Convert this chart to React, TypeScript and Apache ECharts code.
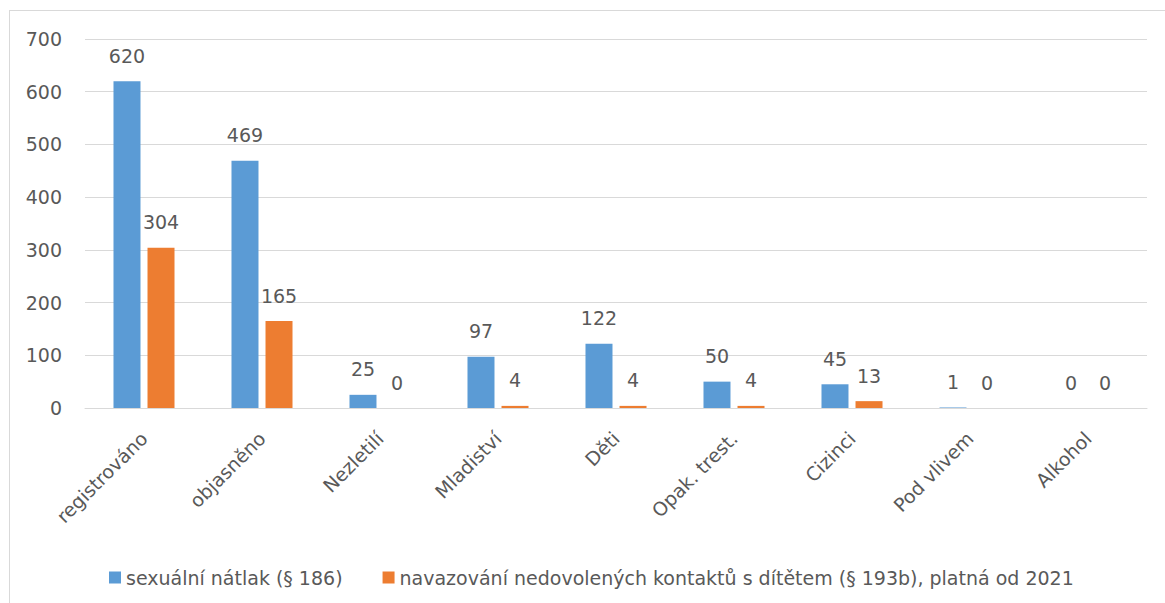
import React, { useEffect, useRef } from "react";
import * as echarts from "echarts";

const categories = ["registrováno", "objasněno", "Nezletilí", "Mladiství", "Děti", "Opak. trest.", "Cizinci", "Pod vlivem", "Alkohol"];
const series1Name = "sexuální nátlak (§ 186)";
const series2Name = "navazování nedovolených kontaktů s dítětem (§ 193b), platná od 2021";
const series1 = [620, 469, 25, 97, 122, 50, 45, 1, 0];
const series2 = [304, 165, 0, 4, 4, 4, 13, 0, 0];
const yTicks = { min: 0, max: 700, interval: 100 };

const FONT = "'DejaVu Sans', sans-serif";
const TXT = "#595959";
const FS = 19;

export default function App() {
  const ref = useRef<HTMLDivElement>(null);
  useEffect(() => {
    document.body.style.margin = "0";
    const chart = echarts.init(ref.current!, undefined, { renderer: "svg" });
    const label = {
      show: true,
      position: "top" as const,
      distance: 16,
      fontSize: FS,
      color: TXT,
      fontFamily: FONT,
    };
    chart.setOption({
      animation: false,
      textStyle: { fontFamily: FONT },
      grid: { left: 85, right: 18, top: 39, bottom: 195, containLabel: false },
      legend: {
        left: 104,
        top: 563,
        itemWidth: 12,
        itemHeight: 12,
        itemGap: 40,
        icon: "rect",
        textStyle: { fontSize: FS, color: TXT, fontFamily: FONT },
        data: [series1Name, series2Name],
      },
      graphic: [
        { type: "line", shape: { x1: 9.5, y1: 10, x2: 9.5, y2: 603 }, style: { stroke: "#d9d9d9", lineWidth: 1 } },
        { type: "line", shape: { x1: 9, y1: 10.5, x2: 1165, y2: 10.5 }, style: { stroke: "#d9d9d9", lineWidth: 1 } },
      ],
      xAxis: {
        type: "category",
        data: categories,
        axisLine: { lineStyle: { color: "#d9d9d9", width: 1 } },
        axisTick: { show: false },
        axisLabel: { rotate: 45, fontSize: FS, color: TXT, fontFamily: FONT, margin: 27, interval: 0 },
      },
      yAxis: {
        type: "value",
        min: yTicks.min,
        max: yTicks.max,
        interval: yTicks.interval,
        axisLine: { show: false },
        axisTick: { show: false },
        splitLine: { lineStyle: { color: "#d9d9d9", width: 1 } },
        axisLabel: { fontSize: FS, color: TXT, fontFamily: FONT, margin: 23 },
      },
      series: [
        { name: series1Name, type: "bar", data: series1, barWidth: 27, barGap: "26%", itemStyle: { color: "#5B9BD5" }, label },
        { name: series2Name, type: "bar", data: series2, barWidth: 27, itemStyle: { color: "#ED7D31" }, label },
      ],
    });
    return () => chart.dispose();
  }, []);
  return <div ref={ref} style={{ width: 1165, height: 603 }} />;
}
